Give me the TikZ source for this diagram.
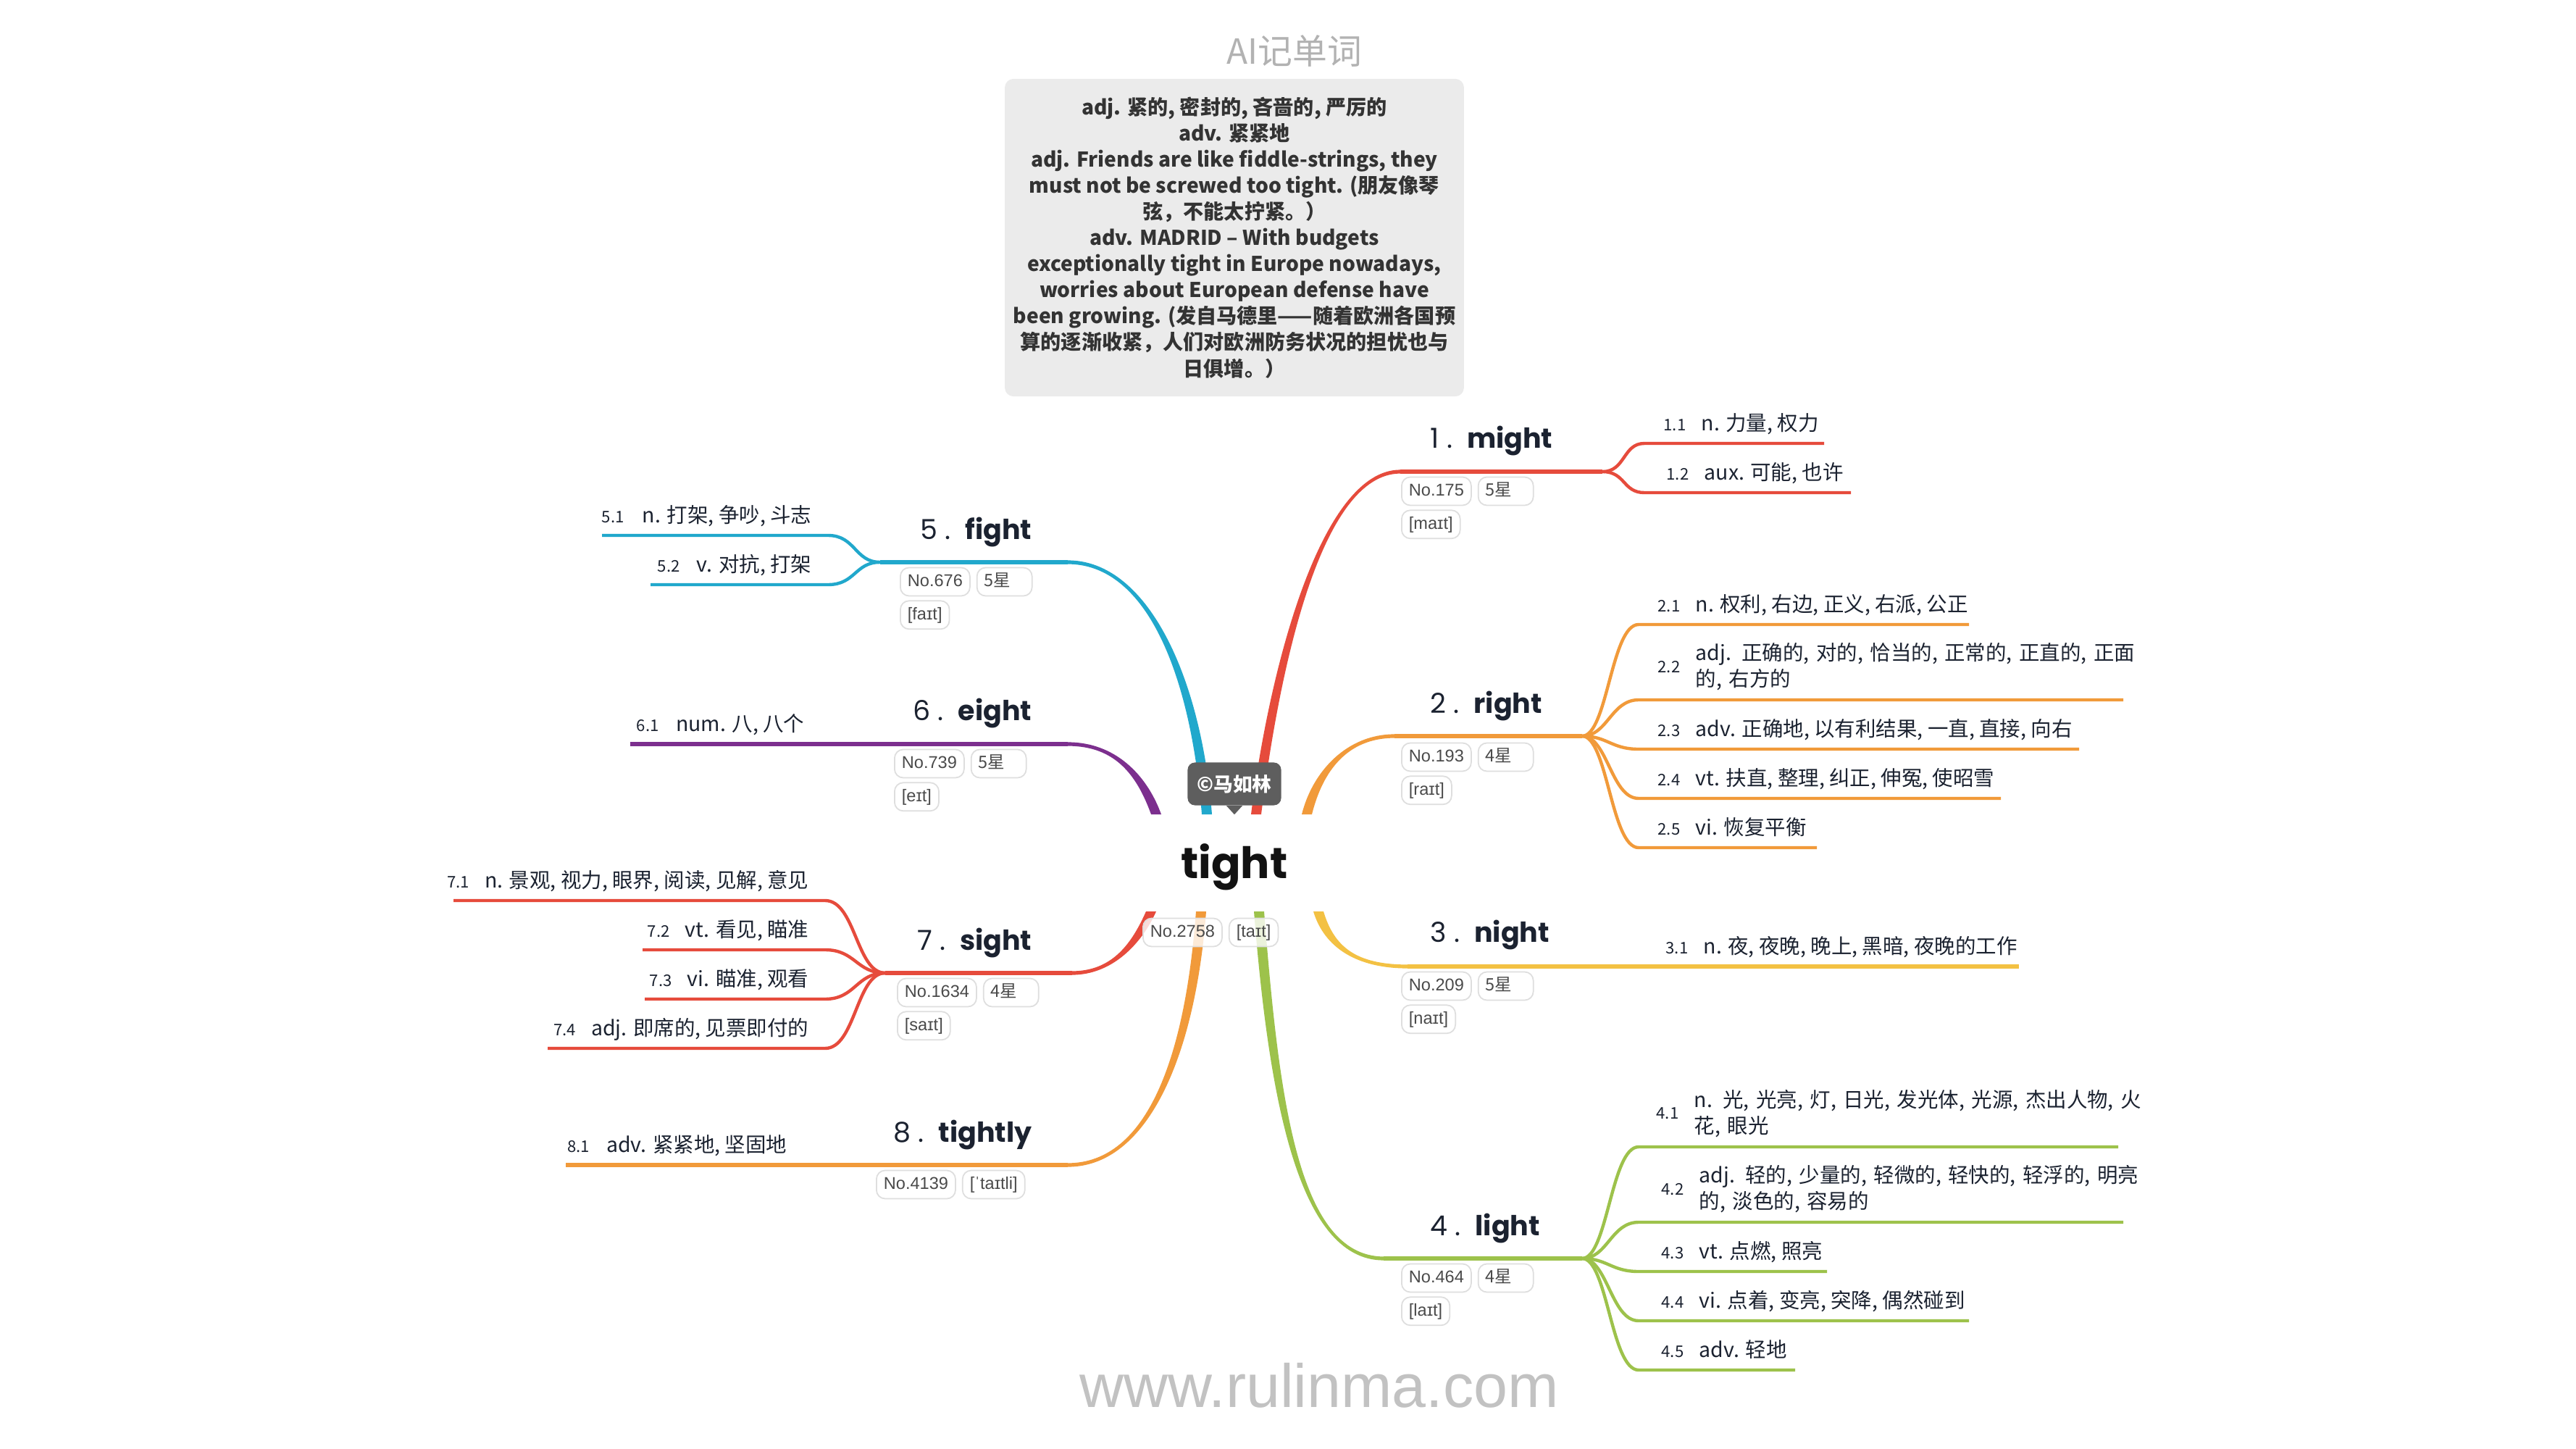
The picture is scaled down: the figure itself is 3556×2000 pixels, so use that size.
\documentclass[tikz,border=0pt]{standalone}
\usepackage{fontspec}
\setmainfont{Noto Sans CJK SC}
\newfontfamily\headfont{Poppins}
\newfontfamily\tagfont{Liberation Sans}
\usetikzlibrary{positioning,calc}

\definecolor{cRed}{HTML}{E64B3C}
\definecolor{cOrange}{HTML}{F19A3A}
\definecolor{cYellow}{HTML}{F3C143}
\definecolor{cGreen}{HTML}{9DC24B}
\definecolor{cBlue}{HTML}{21A8CC}
\definecolor{cPurple}{HTML}{7C2F8E}
\definecolor{ink}{HTML}{1B2230}
\definecolor{tagink}{HTML}{4A4A4A}

% tapered main branch: colour, root, root control, end, end control, side
\newcommand\limb[6]{%
  \fill[#1] ($(#2)+(-7,0)$) .. controls ($(#2)+(-7,0)+#3$) and ($(#4)+(0,-2.6*#6)+#5$) .. ($(#4)+(0,-2.6*#6)$)
    -- ($(#4)+(0,2.6*#6)$) .. controls ($(#4)+(0,2.6*#6)+#5$) and ($(#2)+(7,0)+#3$) .. ($(#2)+(7,0)$) -- cycle;}

\tikzset{
  trunk/.style={line width=1.5pt},
  twig/.style={line width=1.25pt},
  sense/.style={font=\fontsize{8.1}{10.5}\selectfont, text=ink, inner sep=0pt},
  senseno/.style={font=\fontsize{6.3}{7}\selectfont, text=ink, inner sep=0pt},
  headword/.style={font=\headfont\fontsize{10.8}{12}\selectfont, text=ink, inner sep=0pt},
  tagbox/.style={draw=black!13, line width=0.5pt, rounded corners=1.2mm, fill=white, fill opacity=0.8,
    text opacity=1, text=tagink, font=\tagfont\fontsize{6.7}{7.5}\selectfont, inner xsep=0.1cm,
    inner ysep=0pt, minimum height=0.39cm, text height=0.17cm, text depth=0.04cm},
  startag/.style={tagbox, font=\fontsize{6.7}{7.5}\selectfont, text width=0.56cm, align=left},
}

\begin{document}
\begin{tikzpicture}[x=0.01cm, y=-0.01cm]
    \fill[white] (0,0) rectangle (3556,2000);
    \useasboundingbox (0,0) rectangle (3556,2000);

    % title and example sentences
    \node[text=black!30, font=\fontsize{13.6}{15}\selectfont] (title) at (1787,70) {AI记单词};
    \node[fill=black!8, rounded corners=0.12cm, minimum width=6.33cm, minimum height=4.38cm,
      align=center, text=black!80, font=\bfseries\fontsize{8}{10.25}\selectfont] (example) at (1704,328)
      {adj. 紧的, 密封的, 吝啬的, 严厉的\\
       adv. 紧紧地\\
       adj. Friends are like fiddle-strings, they\\
       must not be screwed too tight. (朋友像琴\\
       弦，不能太拧紧。）\\
       adv. MADRID – With budgets\\
       exceptionally tight in Europe nowadays,\\
       worries about European defense have\\
       been growing. (发自马德里——随着欧洲各国预\\
       算的逐渐收紧，人们对欧洲防务状况的担忧也与\\
       日俱增。）};

    % branch roots around the centre
    \coordinate (r1) at (1734,1124);
    \coordinate (r2) at (1804,1124);
    \coordinate (r3) at (1820,1258);
    \coordinate (r4) at (1738,1258);
    \coordinate (r5) at (1666,1124);
    \coordinate (r6) at (1596,1124);
    \coordinate (r7) at (1589,1258);
    \coordinate (r8) at (1658,1258);

    % branch 1: might
    \coordinate (u1) at (1933,651);
    \coordinate (f1) at (2212,651);
    \coordinate (k1) at (2270,651);
    \coordinate (e11) at (2518,612);
    \coordinate (e12) at (2555,680);
    \limb{cRed}{r1}{(25,-200)}{u1}{(-110,0)}{1}
    \draw[cRed, trunk] (u1) -- (f1);
    \draw[cRed, twig] (f1) .. controls +(32,0) and +(-30,0) .. (k1 |- e11) -- (e11);
    \draw[cRed, twig] (f1) .. controls +(32,0) and +(-30,0) .. (k1 |- e12) -- (e12);
    \node[headword, anchor=base west] (w1) at (1974,618) {1 .\hspace{0.2cm}\textbf{might}};
    \node[sense, anchor=base west] (s11) at (2348,594) {n. 力量, 权力};
    \node[senseno, anchor=base east] (n11) at ($(s11.base west)+(-20,0)$) {1.1};
    \node[sense, anchor=base west] (s12) at (2352,662) {aux. 可能, 也许};
    \node[senseno, anchor=base east] (n12) at ($(s12.base west)+(-20,0)$) {1.2};
    \node[tagbox, anchor=west] (no1) at (1934,678) {No.175};
    \node[startag, right=0.08cm of no1] (st1) {5星};
    \node[tagbox, below=0.05cm of no1.south west, anchor=north west] (ph1) {[maɪt]};

    % branch 2: right
    \coordinate (u2) at (1925,1016);
    \coordinate (f2) at (2184,1016);
    \coordinate (k2) at (2262,1016);
    \coordinate (e21) at (2718,862);
    \coordinate (e22) at (2931,966);
    \coordinate (e23) at (2870,1034);
    \coordinate (e24) at (2762,1102);
    \coordinate (e25) at (2508,1170);
    \limb{cOrange}{r2}{(15,-60)}{u2}{(-65,0)}{1}
    \draw[cOrange, trunk] (u2) -- (f2);
    \draw[cOrange, twig] (f2) .. controls +(35,0) and +(-38,0) .. (k2 |- e21) -- (e21);
    \draw[cOrange, twig] (f2) .. controls +(35,0) and +(-38,0) .. (k2 |- e22) -- (e22);
    \draw[cOrange, twig] (f2) .. controls +(35,0) and +(-38,0) .. (k2 |- e23) -- (e23);
    \draw[cOrange, twig] (f2) .. controls +(35,0) and +(-38,0) .. (k2 |- e24) -- (e24);
    \draw[cOrange, twig] (f2) .. controls +(35,0) and +(-38,0) .. (k2 |- e25) -- (e25);
    \node[headword, anchor=base west] (w2) at (1974,984) {2 .\hspace{0.2cm}\textbf{right}};
    \node[sense, anchor=base west] (s21) at (2340,844) {n. 权利, 右边, 正义, 右派, 公正};
    \node[senseno, anchor=base east] (n21) at ($(s21.base west)+(-20,0)$) {2.1};
    \node[sense, anchor=base west, text width=6.3cm, align=left] (s22) at (2340,911)
      {adj. 正确的, 对的, 恰当的, 正常的, 正直的, 正面\\的, 右方的};
    \node[senseno, left=0.2cm of s22] (n22) {2.2};
    \node[sense, anchor=base west] (s23) at (2340,1016) {adv. 正确地, 以有利结果, 一直, 直接, 向右};
    \node[senseno, anchor=base east] (n23) at ($(s23.base west)+(-20,0)$) {2.3};
    \node[sense, anchor=base west] (s24) at (2340,1084) {vt. 扶直, 整理, 纠正, 伸冤, 使昭雪};
    \node[senseno, anchor=base east] (n24) at ($(s24.base west)+(-20,0)$) {2.4};
    \node[sense, anchor=base west] (s25) at (2340,1152) {vi. 恢复平衡};
    \node[senseno, anchor=base east] (n25) at ($(s25.base west)+(-20,0)$) {2.5};
    \node[tagbox, anchor=west] (no2) at (1934,1045) {No.193};
    \node[startag, right=0.08cm of no2] (st2) {4星};
    \node[tagbox, below=0.05cm of no2.south west, anchor=north west] (ph2) {[raɪt]};

    % branch 3: night
    \coordinate (u3) at (1943,1334);
    \coordinate (e31) at (2787,1334);
    \limb{cYellow}{r3}{(15,50)}{u3}{(-70,0)}{-1}
    \draw[cYellow, trunk] (u3) -- (e31);
    \node[headword, anchor=base west] (w3) at (1974,1300) {3 .\hspace{0.2cm}\textbf{night}};
    \node[sense, anchor=base west] (s31) at (2351,1316) {n. 夜, 夜晚, 晚上, 黑暗, 夜晚的工作};
    \node[senseno, anchor=base east] (n31) at ($(s31.base west)+(-20,0)$) {3.1};
    \node[tagbox, anchor=west] (no3) at (1934,1361) {No.209};
    \node[startag, right=0.08cm of no3] (st3) {5星};
    \node[tagbox, below=0.05cm of no3.south west, anchor=north west] (ph3) {[naɪt]};

    % branch 4: light
    \coordinate (u4) at (1910,1737);
    \coordinate (f4) at (2184,1737);
    \coordinate (k4) at (2262,1737);
    \coordinate (e41) at (2924,1583);
    \coordinate (e42) at (2931,1687);
    \coordinate (e43) at (2522,1755);
    \coordinate (e44) at (2718,1823);
    \coordinate (e45) at (2478,1891);
    \limb{cGreen}{r4}{(20,250)}{u4}{(-120,0)}{-1}
    \draw[cGreen, trunk] (u4) -- (f4);
    \draw[cGreen, twig] (f4) .. controls +(35,0) and +(-38,0) .. (k4 |- e41) -- (e41);
    \draw[cGreen, twig] (f4) .. controls +(35,0) and +(-38,0) .. (k4 |- e42) -- (e42);
    \draw[cGreen, twig] (f4) .. controls +(35,0) and +(-38,0) .. (k4 |- e43) -- (e43);
    \draw[cGreen, twig] (f4) .. controls +(35,0) and +(-38,0) .. (k4 |- e44) -- (e44);
    \draw[cGreen, twig] (f4) .. controls +(35,0) and +(-38,0) .. (k4 |- e45) -- (e45);
    \node[headword, anchor=base west] (w4) at (1974,1705) {4 .\hspace{0.2cm}\textbf{light}};
    \node[sense, anchor=base west, text width=6.3cm, align=left] (s41) at (2338,1528)
      {n. 光, 光亮, 灯, 日光, 发光体, 光源, 杰出人物, 火\\花, 眼光};
    \node[senseno, left=0.2cm of s41] (n41) {4.1};
    \node[sense, anchor=base west, text width=6.3cm, align=left] (s42) at (2345,1632)
      {adj. 轻的, 少量的, 轻微的, 轻快的, 轻浮的, 明亮\\的, 淡色的, 容易的};
    \node[senseno, left=0.2cm of s42] (n42) {4.2};
    \node[sense, anchor=base west] (s43) at (2345,1737) {vt. 点燃, 照亮};
    \node[senseno, anchor=base east] (n43) at ($(s43.base west)+(-20,0)$) {4.3};
    \node[sense, anchor=base west] (s44) at (2345,1805) {vi. 点着, 变亮, 突降, 偶然碰到};
    \node[senseno, anchor=base east] (n44) at ($(s44.base west)+(-20,0)$) {4.4};
    \node[sense, anchor=base west] (s45) at (2345,1873) {adv. 轻地};
    \node[senseno, anchor=base east] (n45) at ($(s45.base west)+(-20,0)$) {4.5};
    \node[tagbox, anchor=west] (no4) at (1934,1764) {No.464};
    \node[startag, right=0.08cm of no4] (st4) {4星};
    \node[tagbox, below=0.05cm of no4.south west, anchor=north west] (ph4) {[laɪt]};

    % branch 5: fight
    \coordinate (u5) at (1474,776);
    \coordinate (f5) at (1215,776);
    \coordinate (k5) at (1143,776);
    \coordinate (e51) at (831,739);
    \coordinate (e52) at (898,807);
    \limb{cBlue}{r5}{(-15,-190)}{u5}{(110,0)}{-1}
    \draw[cBlue, trunk] (u5) -- (f5);
    \draw[cBlue, twig] (f5) .. controls +(-35,0) and +(38,0) .. (k5 |- e51) -- (e51);
    \draw[cBlue, twig] (f5) .. controls +(-35,0) and +(38,0) .. (k5 |- e52) -- (e52);
    \node[headword, anchor=base east] (w5) at (1425,744) {5 .\hspace{0.2cm}\textbf{fight}};
    \node[sense, anchor=base east] (s51) at (1121,721) {n. 打架, 争吵, 斗志};
    \node[senseno, anchor=base east] (n51) at ($(s51.base west)+(-24,0)$) {5.1};
    \node[sense, anchor=base east] (s52) at (1121,789) {v. 对抗, 打架};
    \node[senseno, anchor=base east] (n52) at ($(s52.base west)+(-22,0)$) {5.2};
    \node[tagbox, anchor=west] (no5) at (1242,803) {No.676};
    \node[startag, right=0.08cm of no5] (st5) {5星};
    \node[tagbox, below=0.05cm of no5.south west, anchor=north west] (ph5) {[faɪt]};

    % branch 6: eight
    \coordinate (u6) at (1474,1027);
    \coordinate (e61) at (870,1027);
    \limb{cPurple}{r6}{(-20,-55)}{u6}{(65,0)}{-1}
    \draw[cPurple, trunk] (u6) -- (e61);
    \node[headword, anchor=base east] (w6) at (1425,994) {6 .\hspace{0.2cm}\textbf{eight}};
    \node[sense, anchor=base east] (s61) at (1111,1009) {num. 八, 八个};
    \node[senseno, anchor=base east] (n61) at ($(s61.base west)+(-22,0)$) {6.1};
    \node[tagbox, anchor=west] (no6) at (1234,1054) {No.739};
    \node[startag, right=0.08cm of no6] (st6) {5星};
    \node[tagbox, below=0.05cm of no6.south west, anchor=north west] (ph6) {[eɪt]};

    % branch 7: sight
    \coordinate (u7) at (1480,1343);
    \coordinate (f7) at (1222,1343);
    \coordinate (k7) at (1139,1343);
    \coordinate (e71) at (626,1243);
    \coordinate (e72) at (887,1311);
    \coordinate (e73) at (890,1379);
    \coordinate (e74) at (756,1447);
    \limb{cRed}{r7}{(-20,45)}{u7}{(55,0)}{1}
    \draw[cRed, trunk] (u7) -- (f7);
    \draw[cRed, twig] (f7) .. controls +(-40,0) and +(42,0) .. (k7 |- e71) -- (e71);
    \draw[cRed, twig] (f7) .. controls +(-40,0) and +(42,0) .. (k7 |- e72) -- (e72);
    \draw[cRed, twig] (f7) .. controls +(-40,0) and +(42,0) .. (k7 |- e73) -- (e73);
    \draw[cRed, twig] (f7) .. controls +(-40,0) and +(42,0) .. (k7 |- e74) -- (e74);
    \node[headword, anchor=base east] (w7) at (1425,1311) {7 .\hspace{0.2cm}\textbf{sight}};
    \node[sense, anchor=base east] (s71) at (1117,1225) {n. 景观, 视力, 眼界, 阅读, 见解, 意见};
    \node[senseno, anchor=base east] (n71) at ($(s71.base west)+(-20,0)$) {7.1};
    \node[sense, anchor=base east] (s72) at (1117,1293) {vt. 看见, 瞄准};
    \node[senseno, anchor=base east] (n72) at ($(s72.base west)+(-20,0)$) {7.2};
    \node[sense, anchor=base east] (s73) at (1117,1361) {vi. 瞄准, 观看};
    \node[senseno, anchor=base east] (n73) at ($(s73.base west)+(-20,0)$) {7.3};
    \node[sense, anchor=base east] (s74) at (1117,1429) {adj. 即席的, 见票即付的};
    \node[senseno, anchor=base east] (n74) at ($(s74.base west)+(-20,0)$) {7.4};
    \node[tagbox, anchor=west] (no7) at (1238,1370) {No.1634};
    \node[startag, right=0.08cm of no7] (st7) {4星};
    \node[tagbox, below=0.05cm of no7.south west, anchor=north west] (ph7) {[saɪt]};

    % branch 8: tightly
    \coordinate (u8) at (1474,1608);
    \coordinate (e81) at (781,1608);
    \limb{cOrange}{r8}{(-15,200)}{u8}{(110,0)}{1}
    \draw[cOrange, trunk] (u8) -- (e81);
    \node[headword, anchor=base east] (w8) at (1425,1576) {8 .\hspace{0.2cm}\textbf{tightly}};
    \node[sense, anchor=base east] (s81) at (1087,1590) {adv. 紧紧地, 坚固地};
    \node[senseno, anchor=base east] (n81) at ($(s81.base west)+(-22,0)$) {8.1};
    \node[tagbox, anchor=west] (no8) at (1209,1635) {No.4139};
    \node[tagbox, right=0.08cm of no8] (ph8) {[ˈtaɪtli]};

    % centre word
    \node[font=\headfont\bfseries\fontsize{17}{20}\selectfont, text=black!93, inner sep=0pt, anchor=base]
      (root) at (1704,1212) {tight};
    \node[fill=black!63, rounded corners=0.1cm, text=white, font=\bfseries\fontsize{7.6}{9}\selectfont,
      minimum width=1.29cm, minimum height=0.59cm, inner sep=0pt] (owner) at (1704,1082) {©马如林};
    \fill[black!63] ($(owner.south)+(-11,0)$) -- ($(owner.south)+(11,0)$) -- ($(owner.south)+(0,12)$) -- cycle;
    \node[tagbox, anchor=west] (no0) at (1577,1287) {No.2758};
    \node[tagbox, right=0.08cm of no0] (ph0) {[taɪt]};

    % site mark
    \node[text=black!24, font=\tagfont\fontsize{24}{28}\selectfont] (site) at (1821,1912) {www.rulinma.com};
\end{tikzpicture}
\end{document}
